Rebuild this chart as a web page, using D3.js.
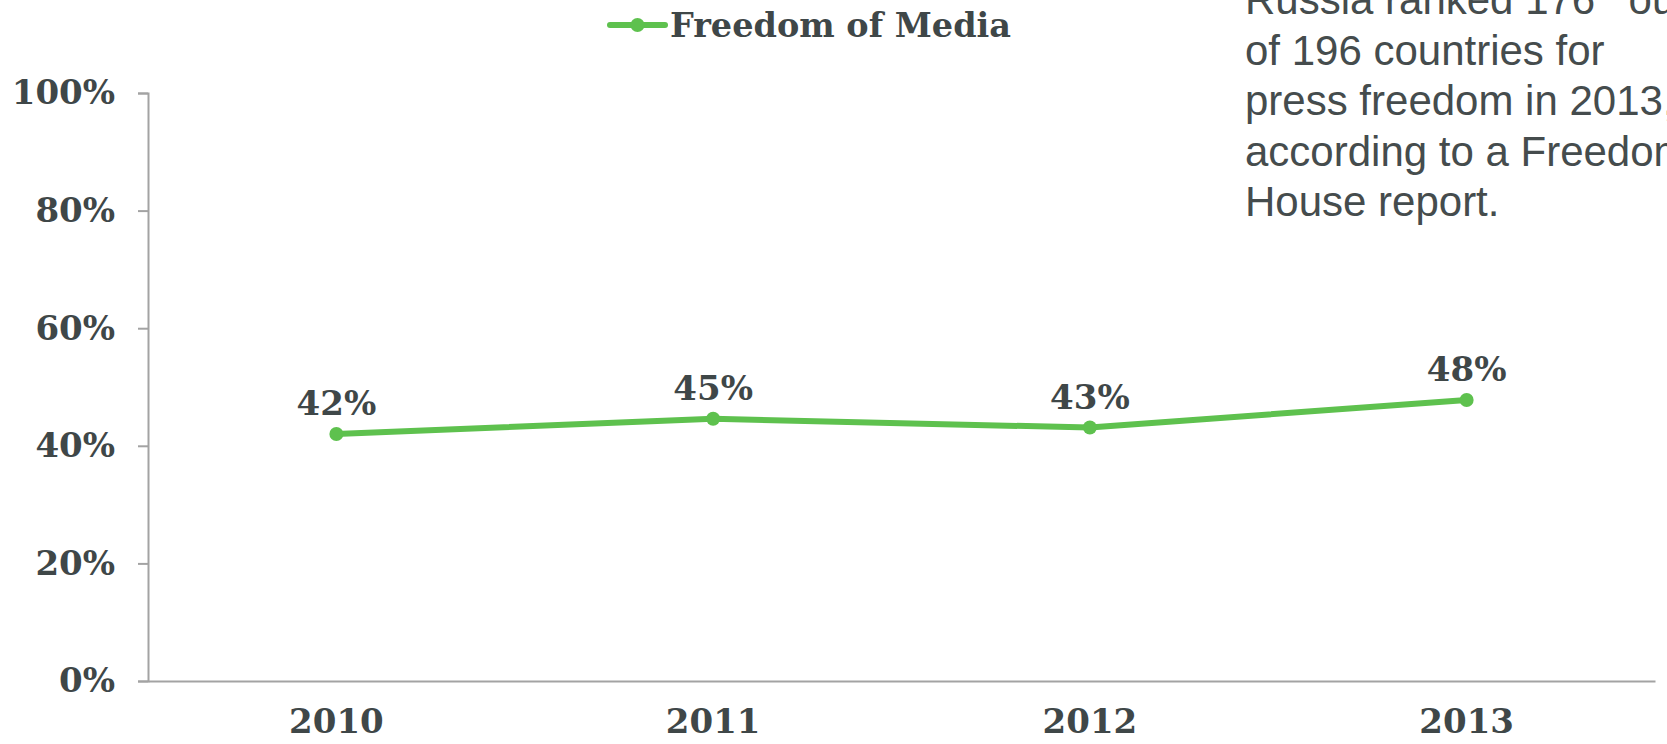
<!DOCTYPE html>
<html>
<head>
<meta charset="utf-8">
<script src="https://cdn.jsdelivr.net/npm/d3@7/dist/d3.min.js"></script>
<style>
  html, body { margin: 0; padding: 0; background: #fff; }
  svg { display: block; }
  .serif { font-family: "DejaVu Serif", "Liberation Serif", serif; font-weight: bold; fill: #3f4748; font-variant-numeric: oldstyle-nums; }
</style>
</head>
<body>
<svg id="chart" width="1667" height="744"></svg>
<script>
// Data
const years = ["2010", "2011", "2012", "2013"];
const freedomOfMedia = [0.42, 0.446, 0.431, 0.478];
const yTicks = [0, 0.2, 0.4, 0.6, 0.8, 1.0];
const seriesName = "Freedom of Media";
const noteLines = [
  ["Russia ranked 176", "th", " out"],
  ["of 196 countries for"],
  ["press freedom in 2013,"],
  ["according to a Freedom"],
  ["House report."]
];

const W = 1667, H = 744;
const margin = { left: 148, right: 12, top: 93, bottom: 63 };
const svg = d3.select("#chart");
const green = "#5ec14e";
const textColor = "#3f4748";
const axisColor = "#a3a3a3";
const labelSize = "34px";

const x = d3.scaleBand().domain(years).range([margin.left, W - margin.right]);
const y = d3.scaleLinear().domain([0, 1]).range([H - margin.bottom, margin.top]);
const pct = d3.format(".0%");

// Y axis
const yAxis = svg.append("g")
  .attr("transform", `translate(${margin.left},0)`)
  .call(d3.axisLeft(y).tickValues(yTicks).tickFormat(pct).tickSize(10).tickPadding(23));
yAxis.select(".domain").attr("stroke", axisColor).attr("stroke-width", 2);
yAxis.selectAll(".tick line").attr("stroke", axisColor).attr("stroke-width", 2);
yAxis.selectAll(".tick text")
  .attr("class", "serif")
  .style("font-size", labelSize)
  .attr("fill", textColor);

// X axis
const xAxis = svg.append("g")
  .attr("transform", `translate(0,${H - margin.bottom})`)
  .call(d3.axisBottom(x).tickSize(0).tickPadding(0));
xAxis.select(".domain").attr("stroke", axisColor).attr("stroke-width", 2);
xAxis.selectAll(".tick text")
  .attr("class", "serif")
  .style("font-size", labelSize)
  .attr("fill", textColor)
  .attr("dy", null)
  .attr("y", 52);

// Series line
const pts = years.map((yr, i) => ({ yr, v: freedomOfMedia[i] }));
const cx = d => x(d.yr) + x.bandwidth() / 2;
svg.append("path")
  .datum(pts)
  .attr("fill", "none")
  .attr("stroke", green)
  .attr("stroke-width", 6)
  .attr("stroke-linejoin", "round")
  .attr("d", d3.line().x(cx).y(d => y(d.v)));

svg.selectAll("circle.pt")
  .data(pts)
  .join("circle")
  .attr("class", "pt")
  .attr("cx", cx)
  .attr("cy", d => y(d.v))
  .attr("r", 7)
  .attr("fill", green);

svg.selectAll("text.val")
  .data(pts)
  .join("text")
  .attr("class", "val serif")
  .attr("x", cx)
  .attr("y", d => y(d.v) - 19)
  .attr("text-anchor", "middle")
  .style("font-size", labelSize)
  .text(d => pct(d.v));

// Legend
const lg = svg.append("g");
lg.append("line").attr("x1", 610).attr("x2", 665).attr("y1", 25).attr("y2", 25)
  .attr("stroke", green).attr("stroke-width", 6).attr("stroke-linecap", "round");
lg.append("circle").attr("cx", 637.5).attr("cy", 25).attr("r", 7).attr("fill", green);
lg.append("text").attr("class", "serif").attr("x", 670).attr("y", 37)
  .style("font-size", "33.5px").style("font-variant-numeric", "normal").text(seriesName);

// Note text
const note = svg.append("text")
  .attr("x", 1245)
  .style("font-family", "'Liberation Sans', Arial, sans-serif")
  .style("font-size", "42px")
  .attr("fill", "#454c4d");
noteLines.forEach((parts, i) => {
  parts.forEach((p, j) => {
    const t = note.append("tspan").text(p);
    if (j === 0) t.attr("x", 1245).attr("y", 14 + i * 50.5);
    if (parts.length > 1 && j === 1) t.style("font-size", "26px").attr("dy", -16);
    if (parts.length > 1 && j === 2) t.attr("dy", 16);
  });
});
</script>
</body>
</html>
